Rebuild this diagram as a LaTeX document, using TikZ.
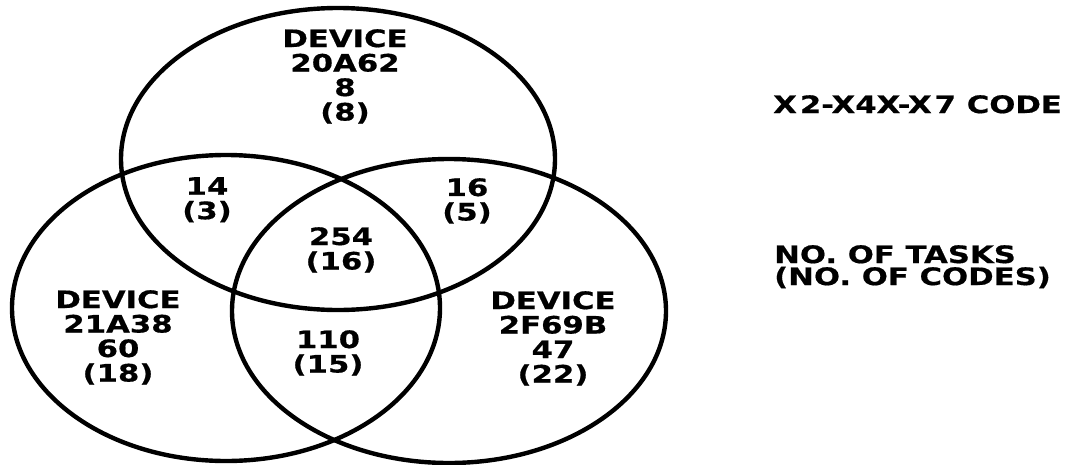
\documentclass[tikz,border=0pt]{standalone}
\usepackage{fontspec}
\newfontfamily\lblfont{DejaVu Sans}[FakeStretch=1.28, FakeBold=0.6]
\tikzset{
  venn/.style={draw=black, line width=4.4pt},
  lbl/.style={font=\lblfont\bfseries\fontsize{24}{24.5}\selectfont, align=center, inner sep=0pt, anchor=north, text=black},
  legend/.style={font=\lblfont\bfseries\fontsize{24}{22}\selectfont, align=left, inner sep=0pt, anchor=north west, text=black}
}
\begin{document}
\begin{tikzpicture}[x=1pt,y=-1pt]
\useasboundingbox[fill=white] (0,0) rectangle (1088,464);
% three device sets
\draw[venn] (338,159) ellipse [x radius=217pt, y radius=151pt];
\draw[venn] (226,308) ellipse [x radius=214pt, y radius=153pt];
\draw[venn] (449,311) ellipse [x radius=217pt, y radius=152pt];
% region labels
\node[lbl] (top) at (345,29) {DEVICE\\20A62\\8\\(8)};
\node[lbl] (left) at (118,290) {DEVICE\\21A38\\60\\(18)};
\node[lbl] (right) at (553,291) {DEVICE\\2F69B\\47\\(22)};
\node[lbl] (tl) at (207,177) {14\\(3)};
\node[lbl] (tr) at (467,178) {16\\(5)};
\node[lbl] (mid) at (341,227) {254\\(16)};
\node[lbl] (bot) at (328,330) {110\\(15)};
% legend
\node[legend] (code) at (773,95) {X\kern3pt 2-X4X-X\kern3pt 7 CODE};
\node[legend] (key) at (774,245) {NO. OF TASKS\\(NO. OF CODES)};
\end{tikzpicture}
\end{document}
